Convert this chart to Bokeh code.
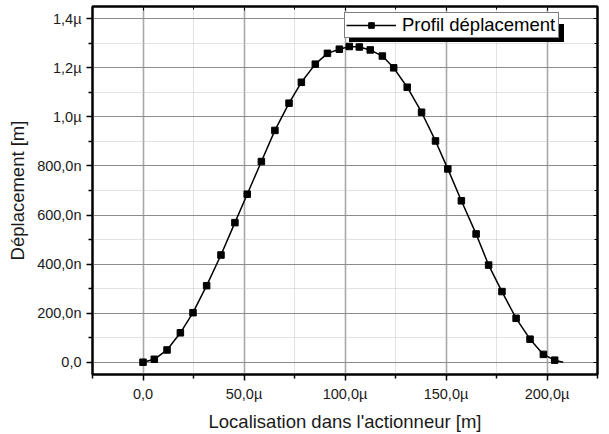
from bokeh.plotting import figure
from bokeh.models import (FixedTicker, LinearAxis, Legend, LegendItem, Range1d)
from bokeh.embed import file_html
from bokeh.resources import INLINE

# Data (x in µm, y in µm)
x_um = [0.0, 5.6, 11.9, 18.5, 24.75, 31.5, 38.6, 45.5, 51.6,
        58.6, 65.3, 72.3, 78.4, 85.3, 91.3, 97.2, 102.1, 107.1, 112.5, 118.5, 124.1,
        130.8, 137.9, 144.8, 150.9, 157.6, 164.9, 171.1,
        177.7, 184.7, 191.6, 198.2, 203.8]
y_um = [0.0, 0.012, 0.05, 0.12, 0.202, 0.312, 0.437, 0.569, 0.685,
        0.818, 0.945, 1.056, 1.141, 1.215, 1.259, 1.276, 1.287, 1.285, 1.273, 1.248, 1.2,
        1.121, 1.019, 0.902, 0.788, 0.658, 0.523, 0.396,
        0.288, 0.179, 0.094, 0.032, 0.0085]
curve_end_x = [208.0]
curve_end_y = [0.0]

x_major = [0, 50, 100, 150, 200]
x_minor = [-25, 25, 75, 125, 175, 225]
x_labels = ["0,0", "50,0µ", "100,0µ", "150,0µ", "200,0µ"]
y_major = [0.0, 0.2, 0.4, 0.6, 0.8, 1.0, 1.2, 1.4]
y_minor = [0.1, 0.3, 0.5, 0.7, 0.9, 1.1, 1.3]
y_labels = ["0,0", "200,0n", "400,0n", "600,0n", "800,0n", "1,0µ", "1,2µ", "1,4µ"]
series_name = "Profil déplacement"

FONT = "Liberation Sans"

p = figure(width=609, height=434, output_backend="svg", toolbar_location=None,
           x_range=Range1d(-25, 225), y_range=Range1d(-0.05, 1.45),
           min_border_left=92, min_border_right=12, min_border_top=6, min_border_bottom=58,
           background_fill_color="white", border_fill_color="white")

p.outline_line_color = "black"
p.outline_line_width = 2

xt = FixedTicker(ticks=x_major, minor_ticks=x_minor)
yt = FixedTicker(ticks=y_major, minor_ticks=y_minor)

for ax in p.xaxis:
    ax.ticker = xt
    ax.major_label_overrides = dict(zip(x_major, x_labels))
    ax.axis_label = "Localisation dans l'actionneur [m]"
for ax in p.yaxis:
    ax.ticker = yt
    ax.major_label_overrides = dict(zip(y_major, y_labels))
    ax.axis_label = "Déplacement [m]"

for ax in list(p.xaxis) + list(p.yaxis):
    ax.axis_line_width = 2
    ax.axis_line_color = "black"
    ax.major_tick_in = 0
    ax.major_tick_out = 6
    ax.minor_tick_in = 0
    ax.minor_tick_out = 4
    ax.major_tick_line_width = 1.5
    ax.minor_tick_line_width = 1.5
    ax.major_label_text_font = FONT
    ax.major_label_text_font_size = "14.5px"
    ax.major_label_text_color = "#1a1a1a"
    ax.axis_label_text_font = FONT
    ax.axis_label_text_font_size = "18.5px"
    ax.axis_label_text_font_style = "normal"
    ax.axis_label_text_color = "#1a1a1a"
    ax.major_label_standoff = 5
    ax.axis_label_standoff = 6

# top and right axes with inward ticks, no labels
top = LinearAxis(ticker=FixedTicker(ticks=x_major, minor_ticks=x_minor))
right = LinearAxis(ticker=FixedTicker(ticks=y_major, minor_ticks=y_minor))
for ax in (top, right):
    ax.axis_line_width = 2
    ax.major_tick_in = 4
    ax.major_tick_out = 0
    ax.minor_tick_in = 3
    ax.minor_tick_out = 0
    ax.major_label_text_font_size = "0px"
    ax.major_label_standoff = 0
    ax.major_label_text_alpha = 0
p.add_layout(top, "above")
p.add_layout(right, "right")

# grids
p.xgrid.ticker = xt
p.ygrid.ticker = yt
p.xgrid.grid_line_color = "#a8a8a8"
p.xgrid.grid_line_width = 1.6
p.ygrid.grid_line_color = "#8c8c8c"
p.ygrid.grid_line_width = 1
for g in (p.xgrid, p.ygrid):
    g.minor_grid_line_color = "#c4c4c4"
    g.minor_grid_line_dash = "1 1"
    g.minor_grid_line_width = 1

line_r = p.line(x_um + curve_end_x, y_um + curve_end_y, line_color="black", line_width=1.5)
mark_r = p.scatter(x_um, y_um, marker="square", size=6.5, fill_color="black", line_color="black")

common = dict(label_text_font=FONT, label_text_font_size="18.5px",
              glyph_width=50, glyph_height=14, label_height=14, label_standoff=6,
              label_width=155, padding=1, margin=0, spacing=0)
# shadow box behind the legend (same size, offset down-right)
shadow = Legend(items=[LegendItem(label=" ", renderers=[line_r, mark_r])],
                location=(257, 332), background_fill_color="black", background_fill_alpha=1,
                border_line_color="black", label_text_color="black", **common)
legend = Legend(items=[LegendItem(label=series_name, renderers=[line_r, mark_r])],
                location=(252, 336), background_fill_color="white", background_fill_alpha=1,
                border_line_color="black", border_line_width=1, label_text_color="black",
                **common)
p.add_layout(shadow)
p.add_layout(legend)

open("out.html", "w").write(file_html(p, INLINE))
